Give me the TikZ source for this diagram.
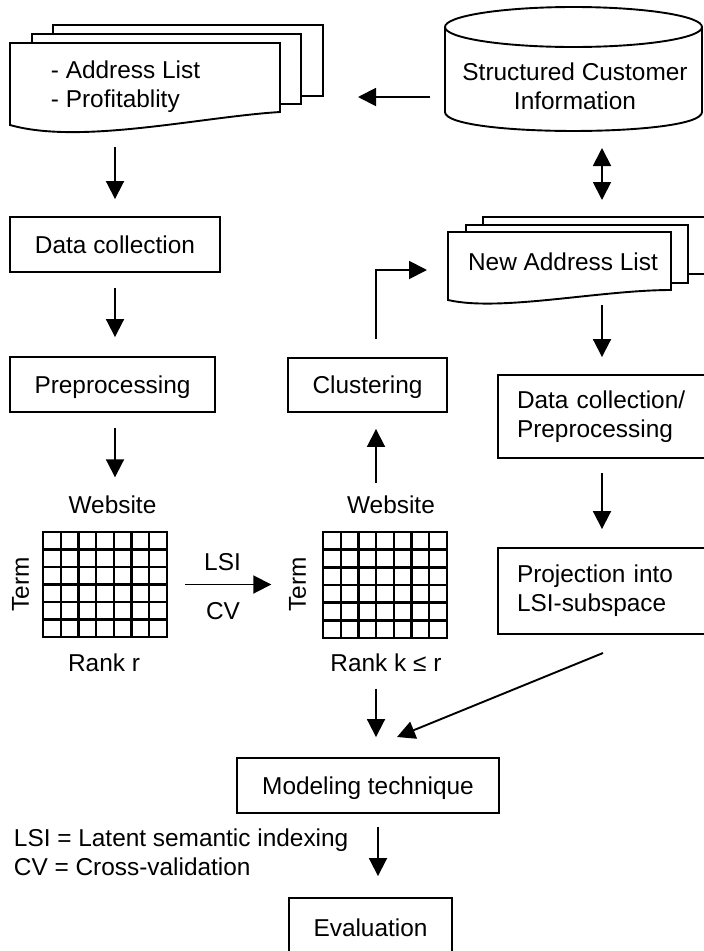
\documentclass[tikz,border=0pt]{standalone}
\usepackage{fontspec}
\setmainfont{Liberation Sans}
\usetikzlibrary{arrows.meta}
\begin{document}
\begin{tikzpicture}[x=1pt,y=-1pt,line width=1.9pt,
  txt/.style={font=\fontsize{24.4}{29}\selectfont, inner sep=0pt},
  one/.style={txt, text height=17.5pt, text depth=0pt},
  box/.style={one, draw, line width=1.9pt},
  tbox/.style={txt, draw, line width=1.9pt, align=left, text width=176pt, inner xsep=19pt},
  arr/.style={-{Triangle[length=18pt,width=18pt]}, line width=1.9pt},
  dbl/.style={{Triangle[length=18pt,width=18pt]}-{Triangle[length=18pt,width=18pt]}, line width=1.9pt},
  sheet/.style={line width=1.9pt, line join=miter},
  gridline/.style={line width=2.4pt}]
\useasboundingbox (0,0) rectangle (704,951);
\clip (0,0) rectangle (704,951);

% --- top-left document stack
\draw[sheet] (53,34) -- (53,25) -- (323,25) -- (323,96) -- (301,96);
\draw[sheet] (32,43) -- (32,34) -- (301,34) -- (301,104) -- (280,104);
\draw[sheet] (10,43) -- (280,43) -- (280,112) .. controls (200,117) and (80,145) .. (10,125) -- cycle;
\node[txt, align=left, anchor=west] (doc1) at (50,86.8) {- Address List\\- Profitablity};
\coordinate (doc1E) at (323,97);
\coordinate (doc1S) at (115,130);

% --- cylinder
\draw (445,27) -- (445,112) .. controls (445,137.3) and (702,137.3) .. (702,112) -- (702,27);
\draw (573.5,27) ellipse [x radius=128.5pt, y radius=20pt];
\node[txt, align=center] (cyl) at (575,85.8) {Structured Customer\\Information};
\coordinate (cylW) at (445,97);
\coordinate (cylS) at (602,131);

% --- new address list stack
\draw[sheet] (483,225) -- (483,217) -- (730,217) -- (730,274) -- (688,274);
\draw[sheet] (466,232) -- (466,225) -- (688,225) -- (688,283) -- (671,283);
\draw[sheet] (448,232) -- (671,232) -- (671,290) .. controls (600,290) and (500,312) .. (448,300) -- cycle;
\node[one] (doc2) at (563,262) {New Address List};
\coordinate (doc2N) at (602,217);
\coordinate (doc2S) at (602,295);
\coordinate (doc2W) at (448,270);

% --- boxes
\node[box, minimum width=210pt, minimum height=55pt] (datacoll) at (115,244.5) {Data collection};
\node[box, minimum width=205pt, minimum height=55pt] (prep) at (112.5,384.5) {Preprocessing};
\node[box, minimum width=159pt, minimum height=54pt] (clust) at (367.5,385) {Clustering};
\node[tbox, minimum height=83pt] (dcpp) at (605,416.5) {Data collection/\\Preprocessing};
\node[tbox, minimum height=86pt] (proj) at (605,591) {Projection into\\LSI-subspace};
\node[box, minimum width=262pt, minimum height=55pt] (model) at (368,785.5) {Modeling technique};
\node[box, minimum width=163pt, minimum height=60pt] (eval) at (370.5,928) {Evaluation};

% --- matrices
\node[draw, line width=2.4pt, minimum width=124pt, minimum height=105pt, inner sep=0pt] (m1) at (105,584.5) {};
\foreach \i in {1,...,6} \draw[gridline] ({43+\i*124/7},532) -- ({43+\i*124/7},637);
\foreach \j in {1,...,5} \draw[gridline] (43,{532+\j*105/6}) -- (167,{532+\j*105/6});
\node[draw, line width=2.4pt, minimum width=124pt, minimum height=106pt, inner sep=0pt] (m2) at (385,585) {};
\foreach \i in {1,...,6} \draw[gridline] ({323+\i*124/7},532) -- ({323+\i*124/7},638);
\foreach \j in {1,...,5} \draw[gridline] (323,{532+\j*106/6}) -- (447,{532+\j*106/6});

\node[one] (web1) at (112.5,505) {Website};
\node[one] (rank1) at (104,663) {Rank r};
\node[one, rotate=90] (term1) at (20,584.5) {Term};
\node[one] (web2) at (391,505) {Website};
\node[one] (rank2) at (386,663) {Rank k ≤ r};
\node[one, rotate=90] (term2) at (297,584.5) {Term};
\node[one] (lsi) at (222.5,562) {LSI};
\node[one] (cv) at (223,611) {CV};

\node[txt, align=left, anchor=west] (legend) at (13,852.3) {LSI = Latent semantic indexing\\CV = Cross-validation};

% --- connectors
\coordinate (a5s) at (376,483);
\coordinate (a10s) at (603,653);
\coordinate (a10e) at (397,737);
\coordinate (a13s) at (378,813);

\draw[arr, shorten <=15pt, shorten >=35pt] (cylW) -- (doc1E);
\draw[arr, shorten <=17pt, shorten >=17pt] (doc1S) -- (datacoll.north);
\draw[arr, shorten <=15pt, shorten >=19pt] (datacoll.south) -- (datacoll.south |- prep.north);
\draw[arr, shorten <=15pt, shorten >=18pt] (datacoll.south |- prep.south) -- (datacoll.south |- web1.north);
\draw[arr, shorten >=16pt] (a5s) -- (a5s |- clust.south);
\draw[arr, shorten <=18pt, shorten >=21pt] (a5s |- clust.north) |- (doc2W);
\draw[dbl, shorten <=17pt, shorten >=17pt] (cylS) -- (doc2N);
\draw[arr, shorten <=10pt, shorten >=17pt] (doc2S) -- (doc2S |- dcpp.north);
\draw[arr, shorten <=14pt, shorten >=18pt] (doc2S |- dcpp.south) -- (doc2S |- proj.north);
\draw[arr] (a10s) -- (a10e);
\draw[arr, shorten <=16pt, shorten >=20pt] (a5s |- rank2.south) -- (a5s |- model.north);
\draw[arr, shorten <=17pt, shorten >=16pt] (m1.east) -- (m1.east -| term2.north);
\draw[arr, shorten <=14pt, shorten >=21pt] (a13s) -- (a13s |- eval.north);
\end{tikzpicture}
\end{document}
